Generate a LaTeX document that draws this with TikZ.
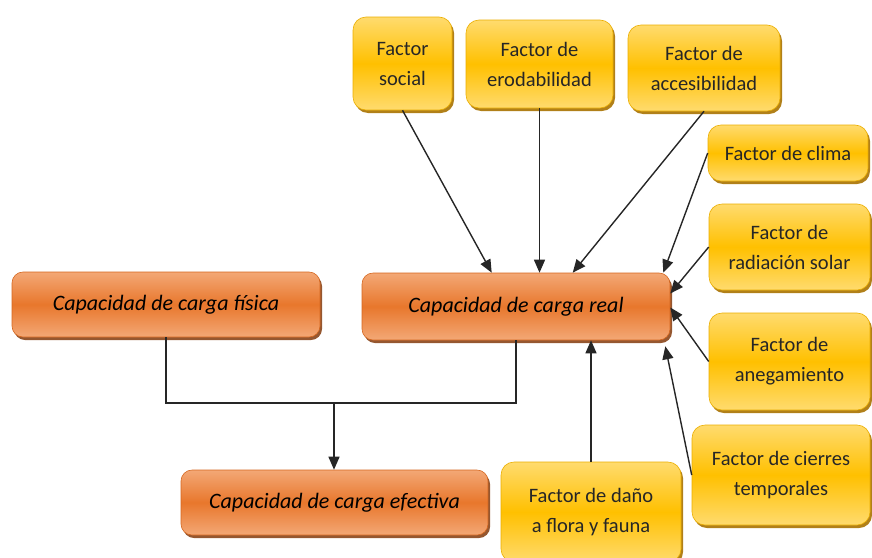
\documentclass[tikz,border=0pt]{standalone}
\usepackage{fontspec}
\setmainfont{Carlito}
\usetikzlibrary{arrows.meta,shadows}

\definecolor{capLight}{HTML}{F3A876}
\definecolor{capMid}{HTML}{E8772C}
\definecolor{capEdge}{HTML}{D5661E}
\definecolor{capShadow}{HTML}{8A451A}
\definecolor{facLight}{HTML}{FFDB6E}
\definecolor{facMid}{HTML}{FFC000}
\definecolor{facEdge}{HTML}{EBAE00}
\definecolor{facShadow}{HTML}{A87200}

\begin{document}
\begin{tikzpicture}[x=1pt,y=-1pt,
    capbox/.style={rounded corners=11pt, draw=capEdge, line width=0.6pt,
      top color=capLight, bottom color=capLight, middle color=capMid,
      drop shadow={shadow xshift=2pt,shadow yshift=-3pt,fill=capShadow,opacity=0.9},
      font=\fontsize{22}{27}\selectfont\itshape, inner sep=0pt},
    factorbox/.style={rounded corners=13pt, draw=facEdge, line width=0.6pt,
      top color=facLight, bottom color=facLight, middle color=facMid,
      drop shadow={shadow xshift=2pt,shadow yshift=-3pt,fill=facShadow,opacity=0.9},
      font=\fontsize{20.5}{30}\selectfont, text=black!85, align=center, inner sep=0pt},
    link/.style={line width=1.4pt, draw=black!85},
    arrow/.style={link, -{Triangle[length=13pt,width=11pt]}}]

    % Fix the page size
    \useasboundingbox (0,0) rectangle (872,557);
    \clip (0,0) rectangle (872,557);

    % Main boxes (capacidad de carga)
    \node[capbox, minimum width=308pt, minimum height=65pt] (fisica) at (166,304.5) {Capacidad de carga física};
    \node[capbox, minimum width=308pt, minimum height=67pt] (real) at (516,306.5) {Capacidad de carga real};
    \node[capbox, minimum width=307pt, minimum height=65pt] (efectiva) at (334.5,502.5) {Capacidad de carga efectiva};

    % Factor boxes on top
    \node[factorbox, minimum width=99pt, minimum height=93pt] (social) at (402.5,63.5) {Factor\\social};
    \node[factorbox, minimum width=147pt, minimum height=88pt] (erodab) at (539.5,64) {Factor de\\erodabilidad};
    \node[factorbox, minimum width=152pt, minimum height=86pt] (acces) at (704,68) {Factor de\\accesibilidad};

    % Factor boxes on the right
    \node[factorbox, minimum width=160pt, minimum height=56pt] (clima) at (788,153) {Factor de clima};
    \node[factorbox, minimum width=161pt, minimum height=86pt] (radiacion) at (789.5,247) {Factor de\\radiación solar};
    \node[factorbox, minimum width=161pt, minimum height=97pt] (anegam) at (789.5,361.5) {Factor de\\anegamiento};
    \node[factorbox, minimum width=178pt, minimum height=100pt] (cierres) at (781,475) {Factor de cierres\\temporales};

    % Factor box at the bottom
    \node[factorbox, minimum width=180pt, minimum height=100pt] (dano) at (591,512) {Factor de daño\\a flora y fauna};

    % Join point below the two upper boxes
    \coordinate (join) at (334,403);

    % Lines from fisica and real to efectiva
    \draw[link] (fisica.south) |- (join);
    \draw[link] (real.south) |- (join);
    \draw[arrow] (join) -- (join |- efectiva.north);

    % Arrows from the factors into real
    \draw[arrow] (social.south) -- ([xshift=130pt]real.north west);
    \draw[arrow] (erodab.south) -- (erodab.south |- real.north);
    \draw[arrow] (acces.south) -- ([xshift=211pt]real.north west);
    \draw[arrow] (clima.west) -- ([xshift=-7pt]real.north east);
    \draw[arrow] (radiacion.west) -- ([yshift=13pt]real.east);
    \draw[arrow] (anegam.west) -- ([yshift=-1pt]real.east);
    \draw[arrow] (cierres.west) -- ([xshift=-5pt,yshift=-6pt]real.south east);
    \draw[arrow] (dano.north) -- (dano.north |- real.south);

\end{tikzpicture}
\end{document}
